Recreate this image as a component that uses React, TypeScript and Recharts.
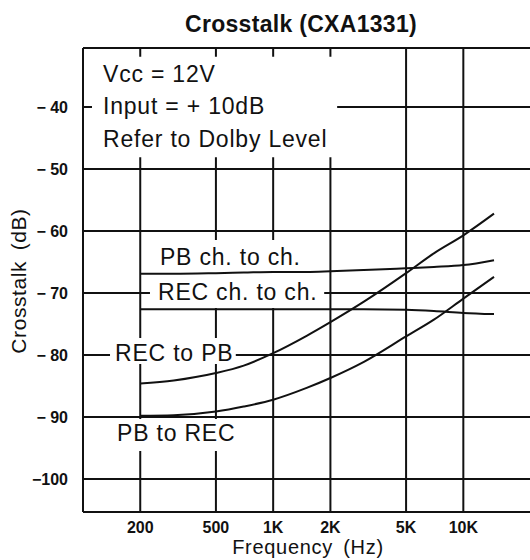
import React from "react";
import {
  LineChart,
  Line,
  XAxis,
  YAxis,
  CartesianGrid,
  ReferenceArea,
  ReferenceLine,
} from "recharts";

// ---- data ----
const freqs = [200, 300, 500, 700, 1000, 1500, 2000, 3000, 5000, 7000, 10000, 14500];
const recToPb = [-84.6, -84.1, -82.9, -81.7, -79.7, -76.9, -74.7, -71.4, -66.8, -63.6, -60.7, -57.2];
const pbToRec = [-89.8, -89.7, -89.1, -88.3, -87.2, -85.3, -83.7, -81.1, -77.0, -74.3, -70.9, -67.4];
const pbChToCh = [-66.9, -66.9, -66.8, -66.7, -66.6, -66.6, -66.5, -66.3, -66.0, -65.8, -65.5, -64.7];
const recChToCh = [-72.6, -72.6, -72.6, -72.6, -72.6, -72.6, -72.6, -72.6, -72.7, -72.9, -73.2, -73.4];

const xTicks = [200, 500, 1000, 2000, 5000, 10000];
const xTickLabels = ["200", "500", "1K", "2K", "5K", "10K"];
const yTicks = [-100, -90, -80, -70, -60, -50, -40];
const yTickLabels = ["\u2212100", "\u2212 90", "\u2212 80", "\u2212 70", "\u2212 60", "\u2212 50", "\u2212 40"];

const X_DOMAIN: [number, number] = [100, 25000];
const Y_DOMAIN: [number, number] = [-105.3, -30.5];

const FONT = "'Liberation Sans', Arial, Helvetica, sans-serif";
const INK = "#111";

const toPoints = (vals: number[]) => freqs.map((f, i) => ({ f, v: vals[i] }));

const conditionLines = ["Vcc = 12V", "Input = + 10dB", "Refer to Dolby Level"];

function BoxText(props: any) {
  const { viewBox, lines } = props;
  if (!viewBox) return null;
  const { x, y } = viewBox;
  return (
    <g>
      {lines.map((l: any, i: number) => (
        <text
          key={i}
          x={x + l.dx}
          y={y + l.dy}
          fill={INK}
          fontFamily={FONT}
          fontSize={23}
          style={{ letterSpacing: "0.8px" }}
        >
          {l.text}
        </text>
      ))}
    </g>
  );
}

function YLabel(props: any) {
  const { viewBox } = props;
  if (!viewBox) return null;
  const cx = viewBox.x + 18;
  const cy = viewBox.y + viewBox.height / 2 + 1;
  return (
    <text
      x={cx}
      y={cy}
      transform={`rotate(-90 ${cx} ${cy})`}
      textAnchor="middle"
      fill={INK}
      fontFamily={FONT}
      fontSize={21}
      style={{ letterSpacing: "0.6px", wordSpacing: "4px" }}
    >
      Crosstalk (dB)
    </text>
  );
}

function XLabel(props: any) {
  const { viewBox } = props;
  if (!viewBox) return null;
  return (
    <text
      x={viewBox.x + 225}
      y={viewBox.y + 42}
      textAnchor="middle"
      fill={INK}
      fontFamily={FONT}
      fontSize={20}
      style={{ letterSpacing: "0.7px", wordSpacing: "4px" }}
    >
      Frequency (Hz)
    </text>
  );
}

export default function App() {
  return (
    <div
      style={{
        position: "fixed",
        left: 0,
        top: 0,
        width: 530,
        height: 560,
        overflow: "hidden",
        background: "#fff",
      }}
    >
      <div style={{ position: "absolute", left: 8, top: 8 }}>
        <LineChart width={531} height={552} margin={{ top: 40, right: 0, bottom: 0, left: 0 }}>
          <CartesianGrid stroke={INK} strokeWidth={2} />
          <XAxis
            type="number"
            dataKey="f"
            scale="log"
            domain={X_DOMAIN}
            allowDataOverflow
            ticks={xTicks}
            interval={0}
            tickFormatter={(v: number) => xTickLabels[xTicks.indexOf(v)] ?? ""}
            tick={{ fill: INK, fontSize: 16, fontWeight: "bold", fontFamily: FONT }}
            tickLine={false}
            tickSize={0}
            tickMargin={10}
            axisLine={{ stroke: INK, strokeWidth: 2 }}
            height={48}
            label={<XLabel />}
          />
          <YAxis
            type="number"
            domain={Y_DOMAIN}
            allowDataOverflow
            ticks={yTicks}
            interval={0}
            tickFormatter={(v: number) => yTickLabels[yTicks.indexOf(v)] ?? ""}
            tick={{ fill: INK, fontSize: 16, fontWeight: "bold", fontFamily: FONT }}
            tickLine={false}
            tickSize={0}
            tickMargin={15}
            axisLine={{ stroke: INK, strokeWidth: 2 }}
            width={75}
            label={<YLabel />}
          />
          <ReferenceLine y={Y_DOMAIN[1]} stroke={INK} strokeWidth={2} />

          <ReferenceArea
            x1={111.5}
            x2={2170}
            y1={-48.1}
            y2={-31.9}
            fill="#fff"
            fillOpacity={1}
            stroke="none"
            label={
              <BoxText
                lines={conditionLines.map((t, i) => ({ text: t, dx: 11, dy: 25 + i * 32.5 }))}
              />
            }
          />
          <ReferenceArea
            x1={225}
            x2={1855}
            y1={-72.4}
            y2={-61.45}
            fill="#fff"
            fillOpacity={1}
            stroke="none"
            label={
              <BoxText
                lines={[
                  { text: "PB ch. to ch.", dx: 10, dy: 25 },
                  { text: "REC ch. to ch.", dx: 8, dy: 60 },
                ]}
              />
            }
          />
          <ReferenceArea
            x1={138.7}
            x2={636}
            y1={-81.45}
            y2={-77.26}
            fill="#fff"
            fillOpacity={1}
            stroke="none"
            label={<BoxText lines={[{ text: "REC to PB", dx: 5, dy: 23 }]} />}
          />
          <ReferenceArea
            x1={138.7}
            x2={669}
            y1={-95.48}
            y2={-90.32}
            fill="#fff"
            fillOpacity={1}
            stroke="none"
            label={<BoxText lines={[{ text: "PB to REC", dx: 7, dy: 22 }]} />}
          />

          <Line data={toPoints(recToPb)} dataKey="v" type="monotone" stroke={INK} strokeWidth={2} dot={false} isAnimationActive={false} />
          <Line data={toPoints(pbToRec)} dataKey="v" type="monotone" stroke={INK} strokeWidth={2} dot={false} isAnimationActive={false} />
          <Line data={toPoints(pbChToCh)} dataKey="v" type="monotone" stroke={INK} strokeWidth={2} dot={false} isAnimationActive={false} />
          <Line data={toPoints(recChToCh)} dataKey="v" type="monotone" stroke={INK} strokeWidth={2} dot={false} isAnimationActive={false} />
        </LineChart>
      </div>
      <svg
        width={530}
        height={48}
        style={{ position: "absolute", left: 0, top: 0, pointerEvents: "none" }}
      >
        <text
          x={301}
          y={32}
          textAnchor="middle"
          fill={INK}
          fontFamily={FONT}
          fontSize={23}
          fontWeight="bold"
          style={{ letterSpacing: "0.3px" }}
        >
          Crosstalk (CXA1331)
        </text>
      </svg>
    </div>
  );
}
